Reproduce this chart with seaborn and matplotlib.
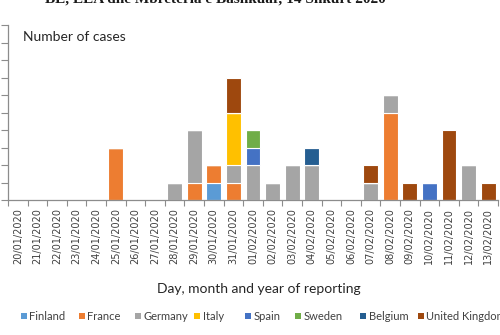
import numpy as np
import pandas as pd
import matplotlib
matplotlib.use("Agg")
import matplotlib.pyplot as plt
from matplotlib.patches import Rectangle
import seaborn as sns

dates = ["20/01/2020", "21/01/2020", "22/01/2020", "23/01/2020", "24/01/2020",
         "25/01/2020", "26/01/2020", "27/01/2020", "28/01/2020", "29/01/2020",
         "30/01/2020", "31/01/2020", "01/02/2020", "02/02/2020", "03/02/2020",
         "04/02/2020", "05/02/2020", "06/02/2020", "07/02/2020", "08/02/2020",
         "09/02/2020", "10/02/2020", "11/02/2020", "12/02/2020", "13/02/2020"]

countries = ["Finland", "France", "Germany", "Italy", "Spain", "Sweden",
             "Belgium", "United Kingdom"]

finland = [0, 0, 0, 0, 0, 0, 0, 0, 0, 0, 1, 0, 0, 0, 0, 0, 0, 0, 0, 0, 0, 0, 0, 0, 0]
france  = [0, 0, 0, 0, 0, 3, 0, 0, 0, 1, 1, 1, 0, 0, 0, 0, 0, 0, 0, 5, 0, 0, 0, 0, 0]
germany = [0, 0, 0, 0, 0, 0, 0, 0, 1, 3, 0, 1, 2, 1, 2, 2, 0, 0, 1, 1, 0, 0, 0, 2, 0]
italy   = [0, 0, 0, 0, 0, 0, 0, 0, 0, 0, 0, 3, 0, 0, 0, 0, 0, 0, 0, 0, 0, 0, 0, 0, 0]
spain   = [0, 0, 0, 0, 0, 0, 0, 0, 0, 0, 0, 0, 1, 0, 0, 0, 0, 0, 0, 0, 0, 1, 0, 0, 0]
sweden  = [0, 0, 0, 0, 0, 0, 0, 0, 0, 0, 0, 0, 1, 0, 0, 0, 0, 0, 0, 0, 0, 0, 0, 0, 0]
belgium = [0, 0, 0, 0, 0, 0, 0, 0, 0, 0, 0, 0, 0, 0, 0, 1, 0, 0, 0, 0, 0, 0, 0, 0, 0]
uk      = [0, 0, 0, 0, 0, 0, 0, 0, 0, 0, 0, 2, 0, 0, 0, 0, 0, 0, 1, 0, 1, 0, 4, 0, 1]

series = [finland, france, germany, italy, spain, sweden, belgium, uk]
colors = ["#5B9BD5", "#ED7D31", "#A5A5A5", "#FFC000", "#4472C4", "#70AD47",
          "#255E91", "#9E480E"]

title_text = "BE, EEA dhe Mbretëria e Bashkuar, 14 Shkurt 2020"

sns.set_style("white")
plt.rcParams["font.family"] = ["DejaVu Sans"]

W, H = 500, 335
fig = plt.figure(figsize=(5, 3.35), dpi=100)
ax = fig.add_axes([0.016, 0.403, 0.98, 0.522])

bottom = np.zeros(len(dates))
for name, vals, col in zip(countries, series, colors):
    df = pd.DataFrame({"date": dates, "cases": vals})
    sns.barplot(data=df, x="date", y="cases", order=dates, color=col,
                errorbar=None, width=0.75, bottom=bottom.copy(),
                edgecolor="white", linewidth=0.8, saturation=1, ax=ax)
    bottom += np.array(vals, dtype=float)

ax.set_xlim(-0.5, len(dates) - 0.5)
ax.set_ylim(0, 10)
ax.set_xlabel("")
ax.set_ylabel("")

spine_col = "#8C8C8C"
for s in ["top", "right"]:
    ax.spines[s].set_visible(False)
for s in ["left", "bottom"]:
    ax.spines[s].set_color(spine_col)
    ax.spines[s].set_linewidth(0.9)

ax.set_yticks(range(0, 11))
ax.set_yticklabels([])
ax.tick_params(axis="y", length=5, width=0.8, color=spine_col, direction="out", left=True)

ax.set_xticks(range(len(dates)))
ax.set_xticklabels(dates, rotation=90, fontsize=7, color="#404040")
ax.tick_params(axis="x", which="major", length=0, pad=6)
ax.set_xticks(np.arange(-0.5, len(dates), 1.0), minor=True)
ax.tick_params(axis="x", which="minor", length=4, width=0.8, color=spine_col,
               direction="out", bottom=True)

ax.text(0.03, 0.93, "Number of cases", transform=ax.transAxes, fontsize=10,
        family="Lato", color="#262626", va="center", ha="left")

fig.text(0.518, 0.137, "Day, month and year of reporting", fontsize=10,
         family="Lato", color="#262626", ha="center", va="center")

fig.text(0.43, 1.0 - 2.5 / H, title_text, fontsize=11, family="Liberation Serif",
         weight="bold", color="#1a1a1a", ha="center", va="baseline")

# legend entries placed like the reference (pixel x of each marker)
legend_x = [21, 79, 135, 194, 245, 295, 360, 418]
legend_y = 316
sq = 5.5
for name, col, lx in zip(countries, colors, legend_x):
    fig.patches.append(Rectangle((lx / W, (H - legend_y - sq / 2) / H), sq / W, sq / H,
                                 transform=fig.transFigure, facecolor=col,
                                 edgecolor="none", figure=fig))
    fig.text((lx + sq + 3) / W, (H - legend_y) / H, name, fontsize=8,
             family="Lato", color="#404040", ha="left", va="center")

fig.savefig("out.png", dpi=100)
